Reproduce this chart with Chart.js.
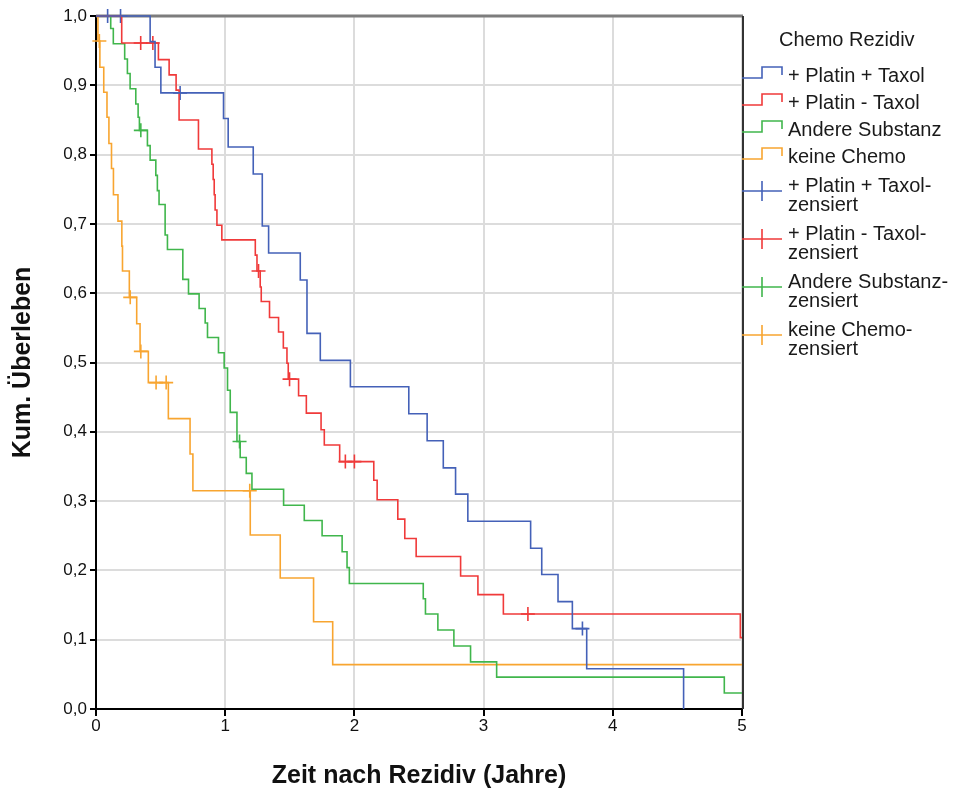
<!DOCTYPE html>
<html>
<head>
<meta charset="utf-8">
<title>Kaplan-Meier Chemo Rezidiv</title>
<script src="https://cdn.jsdelivr.net/npm/chart.js@4.4.0/dist/chart.umd.min.js"></script>
<style>
  html, body { margin: 0; padding: 0; background: #fff; }
  #wrap { width: 954px; height: 792px; }
</style>
</head>
<body>
<div id="wrap"><canvas id="kmChart" width="954" height="792"></canvas></div>
<script>
// ===== DATA (Zeit in Jahren / kumulatives Überleben) =====
const groupNames = ['+ Platin + Taxol', '+ Platin - Taxol', 'Andere Substanz', 'keine Chemo'];
const groupColors = ['#4461b8', '#f03a3a', '#40b64c', '#f8a530'];

const blueTime = [0, 0.419, 0.457, 0.502, 0.987, 1.023, 1.217, 1.287, 1.336, 1.581, 1.633, 1.736, 1.969, 2.421, 2.563, 2.688, 2.783, 2.878, 3.364, 3.45, 3.576, 3.687, 3.798, 4.548];
const blueSurv = [1, 0.963, 0.926, 0.889, 0.852, 0.811, 0.772, 0.697, 0.658, 0.619, 0.542, 0.503, 0.465, 0.426, 0.387, 0.348, 0.310, 0.271, 0.232, 0.194, 0.155, 0.116, 0.058, 0];
const blueCensTime = [0.09, 0.19, 0.651, 3.765];
const blueCensSurv = [1, 1, 0.889, 0.116];

const redTime = [0, 0.199, 0.483, 0.566, 0.62, 0.643, 0.793, 0.897, 0.907, 0.915, 0.922, 0.936, 0.974, 1.233, 1.246, 1.271, 1.279, 1.343, 1.413, 1.45, 1.478, 1.488, 1.568, 1.628, 1.742, 1.767, 1.886, 2.15, 2.176, 2.336, 2.39, 2.478, 2.822, 2.956, 3.153, 4.987, 5.0];
const redSurv = [1, 0.961, 0.937, 0.915, 0.893, 0.850, 0.808, 0.786, 0.764, 0.742, 0.720, 0.698, 0.677, 0.655, 0.632, 0.609, 0.588, 0.565, 0.544, 0.521, 0.499, 0.476, 0.452, 0.427, 0.403, 0.381, 0.357, 0.330, 0.302, 0.274, 0.246, 0.220, 0.192, 0.165, 0.137, 0.103, 0.103];
const redCensTime = [0.346, 0.44, 1.258, 1.498, 1.93, 2.0, 3.343];
const redCensSurv = [0.961, 0.961, 0.632, 0.476, 0.357, 0.357, 0.137];

const greenTime = [0, 0.114, 0.134, 0.222, 0.243, 0.264, 0.308, 0.326, 0.336, 0.398, 0.419, 0.463, 0.475, 0.488, 0.535, 0.553, 0.672, 0.716, 0.798, 0.845, 0.863, 0.948, 0.992, 1.018, 1.039, 1.091, 1.116, 1.163, 1.207, 1.452, 1.612, 1.75, 1.905, 1.943, 1.961, 2.533, 2.55, 2.646, 2.77, 2.899, 3.101, 4.863, 5.0];
const greenSurv = [1, 0.982, 0.960, 0.938, 0.917, 0.895, 0.873, 0.854, 0.835, 0.813, 0.792, 0.770, 0.748, 0.728, 0.684, 0.663, 0.620, 0.599, 0.578, 0.557, 0.536, 0.514, 0.492, 0.460, 0.428, 0.386, 0.363, 0.340, 0.317, 0.294, 0.272, 0.250, 0.227, 0.204, 0.181, 0.159, 0.137, 0.114, 0.091, 0.068, 0.046, 0.023, 0.023];
const greenCensTime = [0.347, 1.111];
const greenCensSurv = [0.835, 0.386];

const orangeTime = [0, 0.015, 0.03, 0.06, 0.085, 0.1, 0.12, 0.135, 0.17, 0.2, 0.205, 0.258, 0.315, 0.341, 0.405, 0.56, 0.728, 0.75, 1.194, 1.426, 1.684, 1.832, 5.0];
const orangeSurv = [1, 0.964, 0.926, 0.890, 0.854, 0.816, 0.780, 0.742, 0.704, 0.668, 0.632, 0.594, 0.556, 0.516, 0.471, 0.419, 0.368, 0.315, 0.251, 0.189, 0.126, 0.064, 0.064];
const orangeCensTime = [0.026, 0.265, 0.347, 0.465, 0.543, 1.19];
const orangeCensSurv = [0.964, 0.594, 0.516, 0.471, 0.471, 0.315];

const xTicks = [0, 1, 2, 3, 4, 5];

// ===== helpers =====
const toPoints = (t, s) => t.map((v, i) => ({ x: v, y: s[i] }));

function curve(label, t, s, color) {
  return {
    label: label,
    data: toPoints(t, s),
    borderColor: color,
    borderWidth: 1.6,
    pointRadius: 0,
    stepped: 'before',
    fill: false,
    clip: 4
  };
}
function censored(label, t, s, color) {
  return {
    label: label + '-zensiert',
    data: toPoints(t, s),
    showLine: false,
    borderColor: color,
    pointStyle: 'cross',
    pointRadius: 7,
    pointBorderWidth: 1.6,
    pointHoverRadius: 7,
    clip: 8
  };
}

// ===== FRAME (top + right border) =====
const framePlugin = {
  id: 'frame',
  beforeDatasetsDraw(chart) {
    const { ctx, chartArea: a } = chart;
    ctx.save();
    ctx.strokeStyle = '#7d7d7d';
    ctx.lineWidth = 3;
    ctx.beginPath(); ctx.moveTo(a.left, a.top); ctx.lineTo(a.right + 1, a.top); ctx.stroke();
    ctx.strokeStyle = '#333';
    ctx.lineWidth = 2;
    ctx.beginPath(); ctx.moveTo(a.right + 1, a.top); ctx.lineTo(a.right + 1, a.bottom); ctx.stroke();
    ctx.restore();
  }
};

// ===== LEGEND (drawn by hand, SPSS style) =====
const legendPlugin = {
  id: 'kmLegend',
  afterDraw(chart) {
    const ctx = chart.ctx;
    ctx.save();
    ctx.font = '20px "Liberation Sans", Arial, sans-serif';
    ctx.fillStyle = '#1a1a1a';
    ctx.textBaseline = 'alphabetic';
    ctx.fillText('Chemo Rezidiv', 779, 46);

    const stepRows = [75, 102, 129, 156];
    stepRows.forEach((y, i) => {
      ctx.strokeStyle = groupColors[i];
      ctx.lineWidth = 1.6;
      ctx.beginPath();
      ctx.moveTo(742, y + 3);
      ctx.lineTo(762, y + 3);
      ctx.lineTo(762, y - 8);
      ctx.lineTo(782, y - 8);
      ctx.lineTo(782, y);
      ctx.stroke();
      ctx.fillText(groupNames[i], 788, y + 7);
    });

    const censRows = [191, 239, 287, 335];
    censRows.forEach((y, i) => {
      ctx.strokeStyle = groupColors[i];
      ctx.lineWidth = 1.6;
      ctx.beginPath();
      ctx.moveTo(742, y); ctx.lineTo(782, y);
      ctx.moveTo(762, y - 10); ctx.lineTo(762, y + 10);
      ctx.stroke();
      ctx.fillText(groupNames[i] + '-', 788, y + 1);
      ctx.fillText('zensiert', 788, y + 20);
    });
    ctx.restore();
  }
};

Chart.defaults.font.family = '"Liberation Sans", Arial, sans-serif';
Chart.defaults.color = '#111';

new Chart(document.getElementById('kmChart'), {
  type: 'line',
  data: {
    datasets: [
      curve(groupNames[0], blueTime, blueSurv, groupColors[0]),
      curve(groupNames[1], redTime, redSurv, groupColors[1]),
      curve(groupNames[2], greenTime, greenSurv, groupColors[2]),
      curve(groupNames[3], orangeTime, orangeSurv, groupColors[3]),
      censored(groupNames[0], blueCensTime, blueCensSurv, groupColors[0]),
      censored(groupNames[1], redCensTime, redCensSurv, groupColors[1]),
      censored(groupNames[2], greenCensTime, greenCensSurv, groupColors[2]),
      censored(groupNames[3], orangeCensTime, orangeCensSurv, groupColors[3])
    ]
  },
  options: {
    responsive: false,
    devicePixelRatio: 1,
    animation: false,
    layout: { padding: { top: 16, right: 212, left: 0, bottom: 0 } },
    plugins: {
      legend: { display: false },
      tooltip: { enabled: false }
    },
    scales: {
      x: {
        type: 'linear',
        min: 0,
        max: 5,
        afterFit: s => { s.height = 83; },
        afterBuildTicks: s => { s.ticks = xTicks.map(v => ({ value: v })); },
        ticks: { font: { size: 17 }, color: '#111', padding: 0, maxRotation: 0 },
        grid: { color: '#dcdcdc', lineWidth: 2, tickColor: '#000', tickLength: 7 },
        border: { color: '#000', width: 2 },
        title: {
          display: true,
          text: 'Zeit nach Rezidiv (Jahre)',
          font: { size: 25, weight: 'bold' },
          color: '#111',
          padding: { top: 0, bottom: 1 }
        }
      },
      y: {
        min: 0,
        max: 1,
        afterFit: s => { s.width = 96; },
        ticks: {
          stepSize: 0.1,
          font: { size: 17 },
          color: '#111',
          padding: 3,
          callback: v => v.toFixed(1).replace('.', ',')
        },
        grid: { color: '#dcdcdc', lineWidth: 2, tickColor: '#000', tickLength: 6 },
        border: { color: '#000', width: 2 },
        title: {
          display: true,
          text: 'Kum. Überleben',
          font: { size: 25, weight: 'bold' },
          color: '#111',
          padding: { top: 8, bottom: 0 }
        }
      }
    }
  },
  plugins: [framePlugin, legendPlugin]
});
</script>
</body>
</html>
